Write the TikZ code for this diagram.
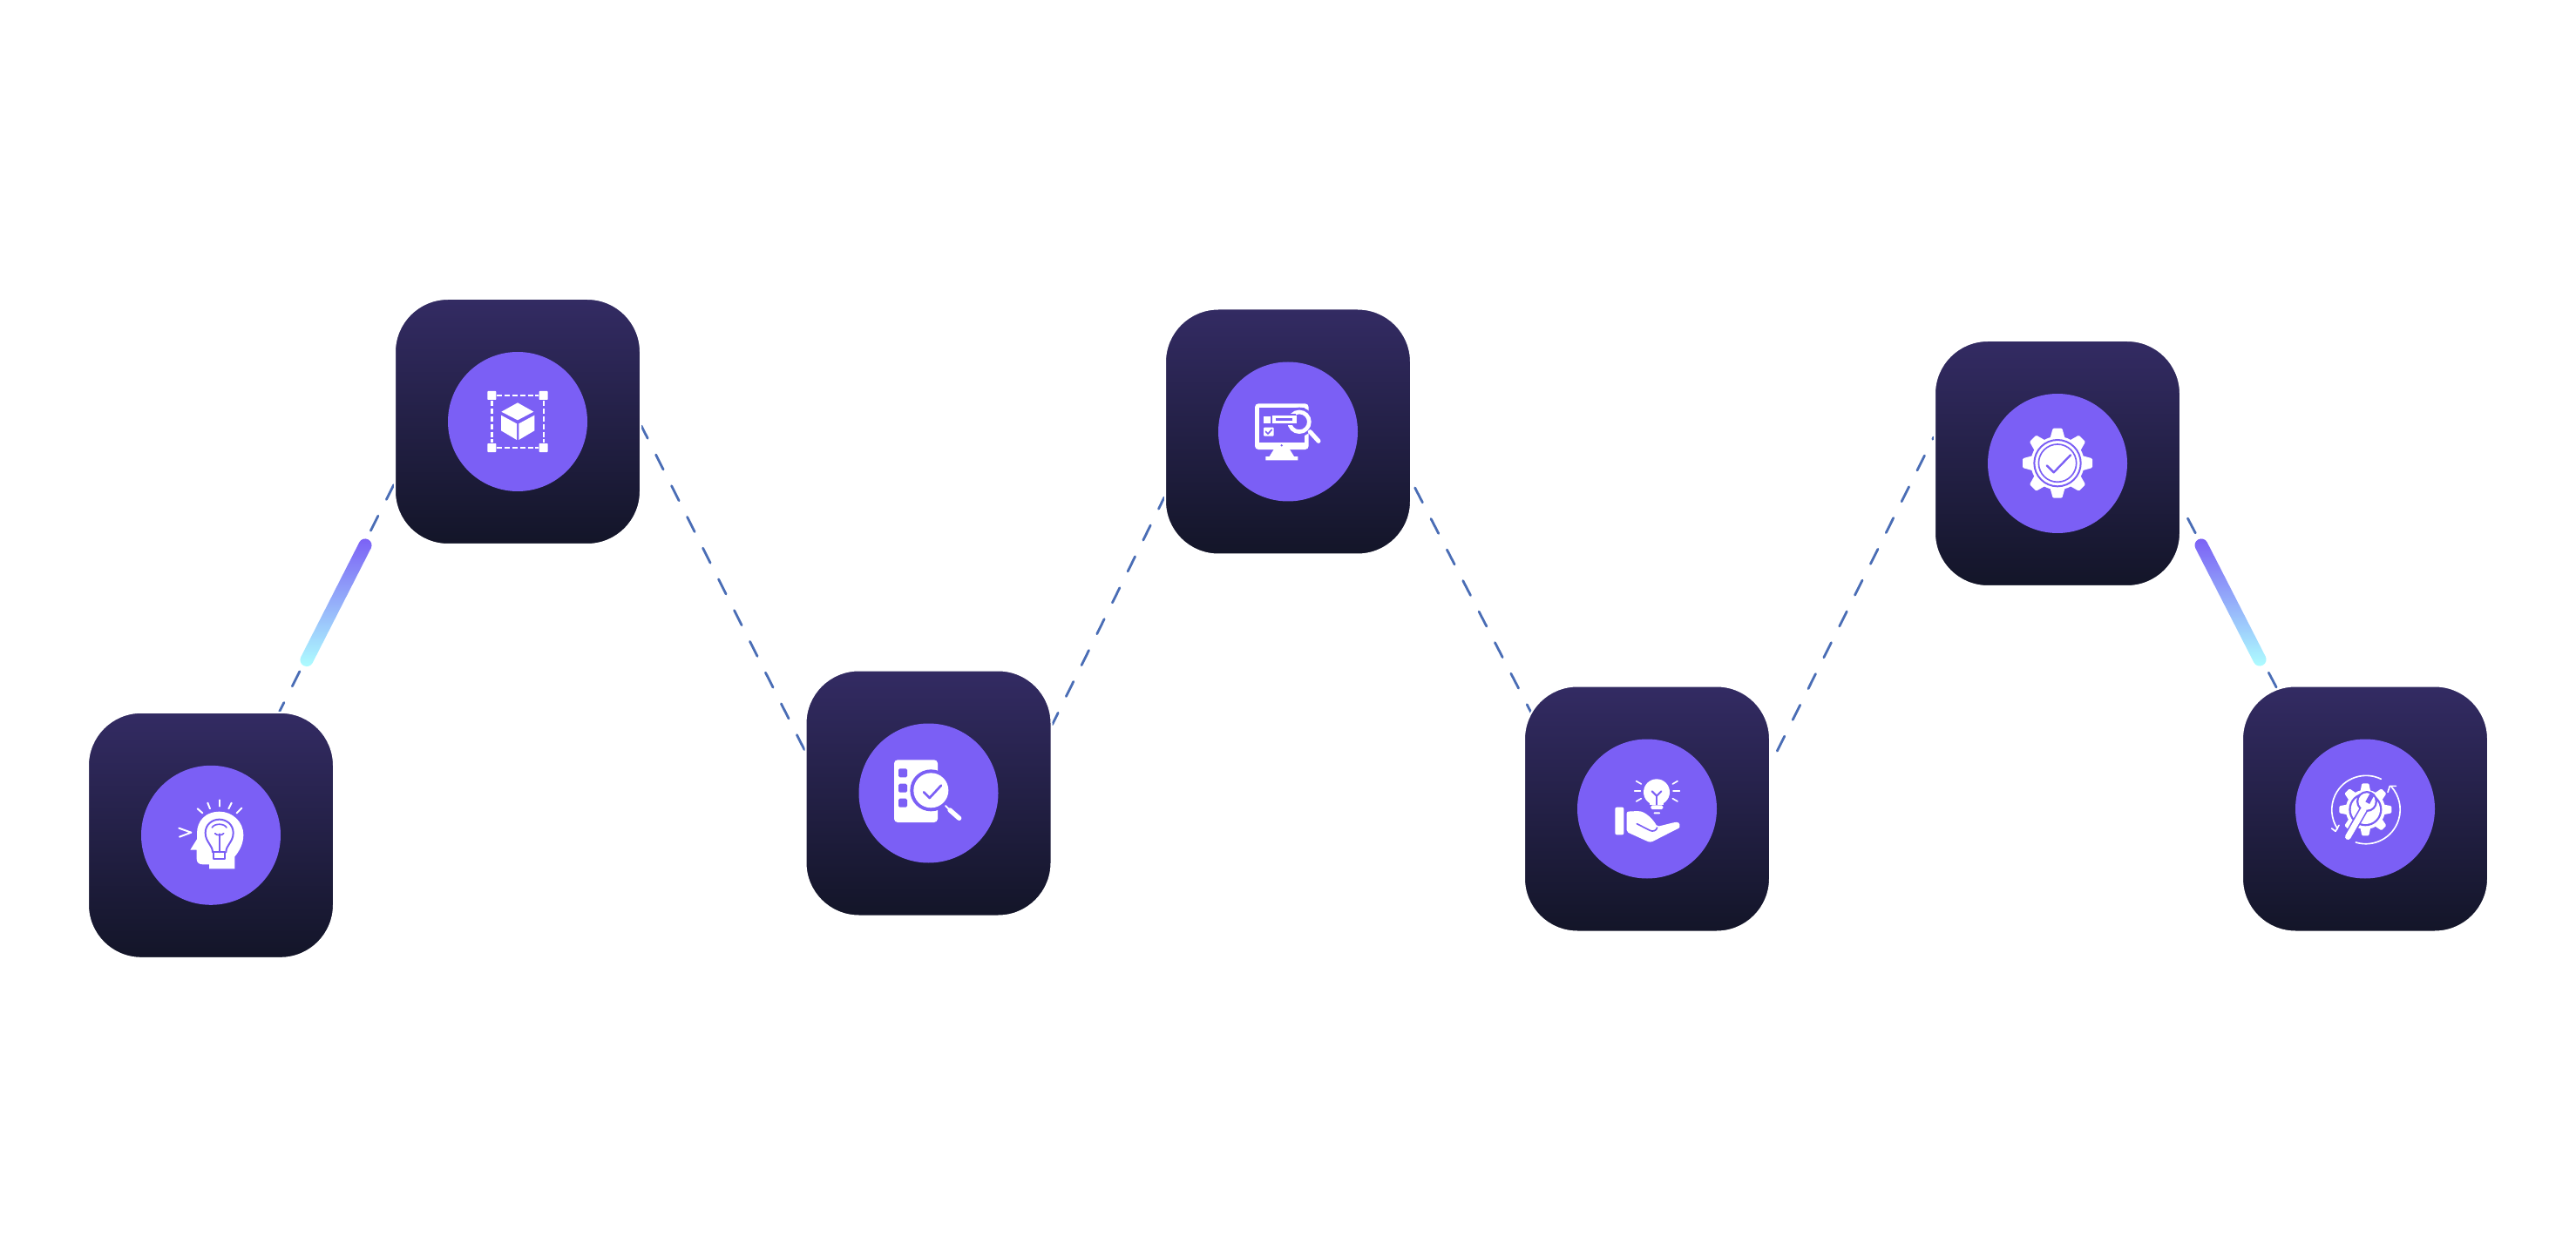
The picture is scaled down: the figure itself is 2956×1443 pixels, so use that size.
\documentclass[tikz,border=0pt]{standalone}
\usetikzlibrary{backgrounds}
\definecolor{boxtop}{HTML}{332B63}
\definecolor{boxbot}{HTML}{131528}
\definecolor{pp}{HTML}{7B5FF5}
\definecolor{linkc}{HTML}{4A6DB5}
\definecolor{pale}{HTML}{AEFFFF}
\tikzset{
  x=0.5pt,y=-0.5pt,
  tile/.style={rectangle,rounded corners=30.5pt,minimum size=141pt,inner sep=0pt,top color=boxtop,bottom color=boxbot,draw=white,line width=1pt},
  disc/.style={circle,fill=pp,minimum size=80pt,inner sep=0pt,draw=none},
  link/.style={draw=linkc,line width=1.4pt,line cap=round,dash pattern=on 9.5pt off 10.5pt},
  pill/.style={top color=pp,bottom color=pale,rounded corners=3.7pt},
  iconat/.style={shift={#1},x=0.16667pt,y=-0.16667pt},
  zw/.style={line width=#1*0.16667pt},
  wl/.style={draw=white,line cap=round,line join=round,zw=#1},
  pl/.style={draw=pp,line cap=round,line join=round,zw=#1},
}
\newcommand{\geargear}[6]{%
  \foreach \a in {0,45,...,315}{
    \fill[white,rounded corners=0.6pt,shift={(#1,#2)},rotate=\a] (#3-8,#5) -- (#4,#6) -- (#4,-#6) -- (#3-8,-#5) -- cycle;
  }
  \fill[white] (#1,#2) circle (#3);
}
\begin{document}
\begin{tikzpicture}
\useasboundingbox (0,0) rectangle (2956,1443);
\node[tile] (n1) at (242,958.8) {};
\node[tile] (n2) at (594,484) {};
\node[tile] (n3) at (1065.5,910.5) {};
\node[tile] (n4) at (1478,495.5) {};
\node[tile] (n5) at (1890,928.5) {};
\node[tile] (n6) at (2361,532) {};
\node[tile] (n7) at (2714,928.5) {};
\node[disc] (c1) at (n1) {};
\node[disc] (c2) at (n2) {};
\node[disc] (c3) at (n3) {};
\node[disc] (c4) at (n4) {};
\node[disc] (c5) at (n5) {};
\node[disc] (c6) at (n6) {};
\node[disc] (c7) at (n7) {};
\begin{scope}[on background layer]
\draw[link,dash phase=3.75pt] (n1.61) -- (n2.207.7);
\draw[link,dash phase=1.5pt] (n2.358.2) -- (n3.161.1);
\draw[link,dash phase=2pt] (n3.29.9) -- (n4.208.2);
\draw[link,dash phase=16pt,shorten >=-10pt] (n4.338.7) -- (n5.138.7);
\draw[link,dash phase=11.8pt] (n5.20.4) -- (n6.168.1);
\draw[link,dash phase=12pt,shorten >=-2pt] (n6.341.4) -- (n7.126.9);
\end{scope}
% gradient pills
\path[pill] (415.7,615.9) -- (429.1,622.7) -- (355.3,767.6) -- (341.9,760.8) -- cycle;
\path[pill] (2529.3,615.9) -- (2515.9,622.7) -- (2589.7,767.1) -- (2603.1,760.3) -- cycle;
% icon 1: head with bulb
\begin{scope}[iconat={(180,900)}]
\draw[wl=6] (140,85) -- (157,100);
\draw[wl=6] (175,65) -- (183,85);
\draw[wl=6] (215,55) -- (215,77);
\draw[wl=6] (257,65) -- (247,85);
\draw[wl=6] (292,83) -- (275,100);
\draw[wl=6] (76,152) -- (118,167) -- (78,182);
\fill[white] (180,292) -- (268,292) -- (268,250) .. controls (285,230) and (298,205) .. (298,175) .. controls (298,130) and (260,95) .. (215,95) .. controls (170,95) and (138,125) .. (138,170) -- (138,190) -- (115,227) -- (137,227) -- (137,258) .. controls (137,270) and (145,277) .. (158,277) -- (180,277) -- cycle;
\draw[pl=6] (192,235) .. controls (192,210) and (167,200) .. (167,168) .. controls (167,140) and (190,122) .. (215,122) .. controls (240,122) and (263,140) .. (263,168) .. controls (263,200) and (238,210) .. (238,235);
\draw[pl=6] (195,235) rectangle (235,258);
\draw[pl=6] (215,172) -- (215,235);
\draw[pl=5] (200,170) .. controls (205,178) and (225,178) .. (230,170);
\draw[pl=5] (190,150) .. controls (198,135) and (232,135) .. (240,150);
\end{scope}
% icon 2: cube in dashed frame
\begin{scope}[iconat={(535,425)}]
\tikzset{framedash/.style={draw=white,zw=7,dash pattern=on 3pt off 1.4pt}}
\draw[framedash] (106,87) -- (250,87);
\draw[framedash] (106,267) -- (250,267);
\draw[framedash] (88,106) -- (88,250);
\draw[framedash] (266,106) -- (266,250);
\foreach \p/\q in {88/87,266/87,88/267,266/267}{
  \fill[white,rounded corners=0.4pt] (\p-15,\q-15) rectangle (\p+15,\q+15);
}
\fill[white] (177,112) -- (232,143) -- (177,172) -- (121,143) -- cycle;
\fill[white] (120,155) -- (174,184) -- (174,240) -- (120,208) -- cycle;
\fill[white] (181,184) -- (235,155) -- (235,208) -- (181,240) -- cycle;
\end{scope}
% icon 3: list with magnifier
\begin{scope}[iconat={(1005,850)}]
\fill[white,rounded corners=2pt] (63,67) rectangle (213,282);
\foreach \q in {97,149,200}{
  \fill[pp,rounded corners=0.8pt] (78,\q) rectangle (108,\q+30);
}
\fill[pp] (190,172) circle (72);
\fill[white] (190,172) circle (60);
\draw[pl=8] (165,178) -- (185,198) -- (225,155);
\draw[wl=6] (240,225) -- (255,240);
\draw[wl=16] (255,240) -- (287,268);
\end{scope}
% icon 4: monitor with magnifier
\begin{scope}[iconat={(1420,445)}]
\fill[white,rounded corners=2pt] (60,55) rectangle (245,213);
\fill[pp] (75,70) rectangle (230,190);
\fill[white] (125,213) -- (180,213) -- (195,237) -- (208,237) -- (208,250) -- (97,250) -- (97,237) -- (110,237) -- cycle;
\fill[pp] (152,199) circle (4);
\fill[pp] (213,118) circle (50);
\draw[white,zw=14] (213,118) circle (34);
\fill[white] (90,100) rectangle (115,122);
\fill[pp] (170,90) rectangle (200,130);
\fill[white] (120,97) rectangle (205,122);
\fill[pp] (133,105) rectangle (190,113);
\fill[white,rounded corners=0.5pt] (90,137) rectangle (125,167);
\draw[pl=5] (97,151) -- (105,159) -- (118,145);
\draw[wl=15] (250,152) -- (279,184);
\end{scope}
% icon 5: hand with bulb
\begin{scope}[iconat={(1830,875)}]
\fill[white] (213,103) circle (45);
\fill[white] (190,125) rectangle (236,146);
\fill[white,rounded corners=0.8pt] (193,148) rectangle (235,162);
\fill[white,rounded corners=0.4pt] (203,172) rectangle (225,178);
\draw[pl=6] (197,100) -- (213,116) -- (229,100);
\draw[pl=6] (213,116) -- (213,146);
\draw[wl=5] (143,65) -- (160,75);
\draw[wl=5] (137,99) -- (157,99);
\draw[wl=5] (143,135) -- (160,125);
\draw[wl=5] (285,65) -- (268,75);
\draw[wl=5] (292,99) -- (270,99);
\draw[wl=5] (285,135) -- (268,125);
\fill[white,rounded corners=1pt] (70,155) rectangle (100,250);
\fill[white,rounded corners=1pt] (110,170) -- (150,168) .. controls (175,172) and (200,195) .. (215,222) -- (275,207) .. controls (295,205) and (295,225) .. (283,230) -- (205,270) .. controls (195,275) and (188,275) .. (180,272) -- (110,240) -- cycle;
\draw[pl=5] (145,212) -- (190,235) .. controls (200,240) and (212,236) .. (215,225);
\end{scope}
% icon 6: gear with check
\begin{scope}[iconat={(2300,475)}]
\geargear{183}{170}{92}{120}{26}{16}
\draw[pp,zw=6] (183,170) circle (80);
\draw[pp,zw=5] (183,170) circle (65);
\draw[pl=7] (146,178) -- (170,202) -- (228,142);
\end{scope}
% icon 7: gear with wrench and arrows
\begin{scope}[iconat={(2655,870)}]
\draw[wl=5] (232,73) arc[start angle=-64,end angle=-214,radius=118];
\draw[wl=5] (62,243) -- (75,253) -- (87,232);
\draw[wl=5] (145,291) arc[start angle=107,end angle=-42,radius=118];
\draw[wl=5] (255,118) -- (262,97) -- (283,97);
\geargear{178}{178}{68}{90}{18}{12}
\fill[pp] (178,178) circle (57);
\fill[white] (178,178) circle (50);
\draw[pl=30] (118,272) -- (172,178);
\fill[pp] (183,150) circle (36);
\draw[wl=20] (118,272) -- (172,178);
\fill[white] (183,150) circle (29);
\draw[pp,zw=16] (185,155) -- (203,122);
\end{scope}
\end{tikzpicture}
\end{document}
